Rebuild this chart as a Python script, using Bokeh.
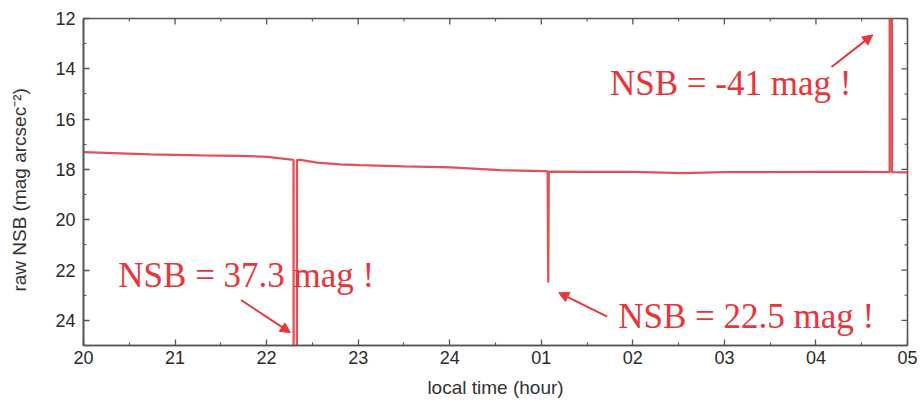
import math
from bokeh.plotting import figure
from bokeh.models import (Range1d, FixedTicker, Label, Arrow,
                          NormalHead, ColumnDataSource)
from bokeh.embed import file_html
from bokeh.resources import INLINE

# ---- data: local time as decimal hours from 20:00 (values > 24 are after midnight)
time_h = [20.00, 20.40, 20.73, 21.28, 21.70, 22.01, 22.294, 22.296, 22.330, 22.332,
          22.37, 22.55, 22.80, 23.02, 23.50, 24.01, 24.55, 25.04, 25.070, 25.076,
          25.082, 25.50, 26.00, 26.55, 27.00, 27.50, 28.00, 28.50, 28.805, 28.808,
          28.828, 28.831, 29.00]
nsb = [17.31, 17.36, 17.40, 17.44, 17.46, 17.50, 17.62, 37.3, 37.3, 17.62,
       17.62, 17.73, 17.80, 17.83, 17.88, 17.92, 18.03, 18.07, 18.08, 22.5,
       18.09, 18.10, 18.10, 18.15, 18.11, 18.11, 18.10, 18.10, 18.11, -41.0,
       -41.0, 18.11, 18.12]

x_ticks = [20, 21, 22, 23, 24, 25, 26, 27, 28, 29]
x_tick_labels = ["20", "21", "22", "23", "24", "01", "02", "03", "04", "05"]
x_minor = [20.5, 21.5, 22.5, 23.5, 24.5, 25.5, 26.5, 27.5, 28.5]
y_ticks = [12, 14, 16, 18, 20, 22, 24]
y_minor = [13, 15, 17, 19, 21, 23, 25]
X_MIN, X_MAX = 20, 29
Y_TOP, Y_BOTTOM = 12, 25

# annotations: (text, x, y) and arrows (x_start, y_start, x_end, y_end)
notes = [("NSB = 37.3 mag !", 20.38, 22.21),
         ("NSB = 22.5 mag !", 25.84, 23.83),
         ("NSB = -41 mag !", 25.75, 14.58)]
arrows = [(21.72, 23.19, 22.26, 24.49),
          (25.72, 23.85, 25.19, 22.90),
          (28.17, 13.93, 28.62, 12.65)]

RED = "#e8343a"
AXIS = "#555555"
SANS = "Liberation Sans"

p = figure(width=920, height=403, output_backend="svg", toolbar_location=None,
           x_range=Range1d(X_MIN, X_MAX), y_range=Range1d(Y_BOTTOM, Y_TOP),
           min_border_left=83, min_border_right=13, min_border_top=18,
           min_border_bottom=58, background_fill_color="white",
           border_fill_color="white", outline_line_color=AXIS,
           outline_line_width=1.6)
p.grid.visible = False

src = ColumnDataSource(data=dict(t=time_h, v=nsb))
p.line("t", "v", source=src, line_color="#dc3a3e", line_width=2.3, line_alpha=0.88)

def style(ax):
    ax.axis_line_color = AXIS
    ax.axis_line_width = 1.6
    ax.major_tick_line_color = AXIS
    ax.minor_tick_line_color = AXIS
    ax.major_tick_line_width = 1.3
    ax.minor_tick_line_width = 1.1
    ax.major_tick_in = 6
    ax.major_tick_out = 0
    ax.minor_tick_in = 3
    ax.minor_tick_out = 0
    ax.major_label_text_font = SANS
    ax.major_label_text_font_size = "18px"
    ax.major_label_text_color = "#2a2a2a"
    ax.axis_label_text_font = SANS
    ax.axis_label_text_font_size = "19px"
    ax.axis_label_text_font_style = "normal"
    ax.axis_label_text_color = "#333333"

xa = p.xaxis[0]
xa.ticker = FixedTicker(ticks=x_ticks, minor_ticks=x_minor)
xa.major_label_overrides = {t: l for t, l in zip(x_ticks, x_tick_labels)}
style(xa)
xa.major_label_standoff = 5
xa.axis_label = "local time (hour)"
xa.axis_label_standoff = 10

ya = p.yaxis[0]
ya.ticker = FixedTicker(ticks=y_ticks, minor_ticks=y_minor)
style(ya)
ya.major_label_standoff = 8
ya.axis_label = "raw NSB (mag arcsec\u207b\u00b2)\u00a0\u00a0\u00a0"
ya.axis_label_standoff = 22

# inward ticks on the top and right edges of the frame
p.scatter(x_ticks, [Y_TOP] * len(x_ticks), marker="dash", size=12, angle=math.pi / 2,
          line_color=AXIS, line_width=1.3)
p.scatter(x_minor, [Y_TOP] * len(x_minor), marker="dash", size=6, angle=math.pi / 2,
          line_color=AXIS, line_width=1.1)
p.scatter([X_MAX] * len(y_ticks), y_ticks, marker="dash", size=12,
          line_color=AXIS, line_width=1.3)
p.scatter([X_MAX] * len(y_minor), y_minor, marker="dash", size=6,
          line_color=AXIS, line_width=1.1)

for txt, x, y in notes:
    p.add_layout(Label(x=x, y=y, text=txt, text_font="Liberation Serif",
                       text_font_size="35px", text_color=RED,
                       text_baseline="alphabetic", text_align="left"))

for xs, ys, xe, ye in arrows:
    p.add_layout(Arrow(x_start=xs, y_start=ys, x_end=xe, y_end=ye,
                       line_color=RED, line_width=2,
                       end=NormalHead(size=10, fill_color=RED, line_color=RED)))

open("out.html", "w").write(file_html(p, INLINE))
